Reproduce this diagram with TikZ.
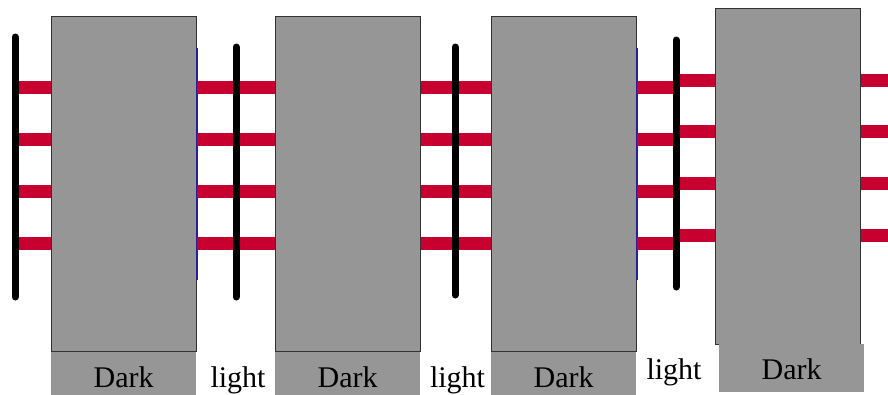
\documentclass[tikz,border=0pt]{standalone}
\usepackage{fontspec}
\setmainfont{Liberation Serif}
\definecolor{slabgray}{RGB}{150,150,150}
\definecolor{beamred}{RGB}{200,0,48}
\definecolor{edgeblue}{RGB}{40,30,150}
\begin{document}
\begin{tikzpicture}[x=1pt,y=-1pt,
  slab/.style={draw=black!80,line width=0.9pt,fill=slabgray,inner sep=0pt,
    anchor=north west,minimum width=145pt,minimum height=335.5pt},
  tag/.style={fill=slabgray,inner sep=0pt,anchor=north west,minimum width=145pt,
    font=\fontsize{30}{36}\selectfont},
  lighttxt/.style={inner sep=0pt,anchor=base,font=\fontsize{30}{36}\selectfont},
  beam/.style={draw=beamred,line width=13pt},
  film/.style={draw=black,line width=7pt,line cap=round},
  rim/.style={draw=edgeblue,line width=1.4pt}]
\useasboundingbox (0,0) rectangle (888,394);

% dark slabs
\node[slab] (d1) at (51,15.5) {};
\node[slab] (d2) at (275,15.5) {};
\node[slab] (d3) at (491,15.5) {};
\node[slab] (d4) at (715,8) {};

% slab captions
\node[tag,text height=36pt,text depth=7pt] (t1) at (51,351.5) {Dark};
\node[tag,text height=36pt,text depth=7pt] (t2) at (275,351.5) {Dark};
\node[tag,text height=36pt,text depth=7pt] (t3) at (491,351.5) {Dark};
\node[tag,text height=35pt,text depth=13pt] (t4) at (719,344) {Dark};

% gap captions
\node[lighttxt] (g1) at (238,387) {light};
\node[lighttxt] (g2) at (457.5,387) {light};
\node[lighttxt] (g3) at (674,379) {light};

% film positions
\coordinate (f1a) at (15,37);  \coordinate (f1b) at (15,297);
\coordinate (f2a) at (236,47); \coordinate (f2b) at (236,297);
\coordinate (f3a) at (455,47); \coordinate (f3b) at (455,295);
\coordinate (f4a) at (676,40); \coordinate (f4b) at (676,287);
\coordinate (rend) at (888,0);

% blue rims on the right faces
\draw[rim] (d1.east |- 0,48) -- (d1.east |- 0,280);
\draw[rim] (d3.east |- 0,48) -- (d3.east |- 0,280);

% beams
\foreach \y in {87,139,191,243}{
  \draw[beam] (f1a |- 0,\y) -- (d1.west |- 0,\y);
  \draw[beam] (d1.east |- 0,\y) -- (d2.west |- 0,\y);
  \draw[beam] (d2.east |- 0,\y) -- (d3.west |- 0,\y);
  \draw[beam] (d3.east |- 0,\y) -- (f4a |- 0,\y);
}
\foreach \y in {80,131.5,183,235}{
  \draw[beam] (f4a |- 0,\y) -- (d4.west |- 0,\y);
  \draw[beam] (d4.east |- 0,\y) -- (rend |- 0,\y);
}

% films
\draw[film] (f1a) -- (f1b);
\draw[film] (f2a) -- (f2b);
\draw[film] (f3a) -- (f3b);
\draw[film] (f4a) -- (f4b);
\end{tikzpicture}
\end{document}
